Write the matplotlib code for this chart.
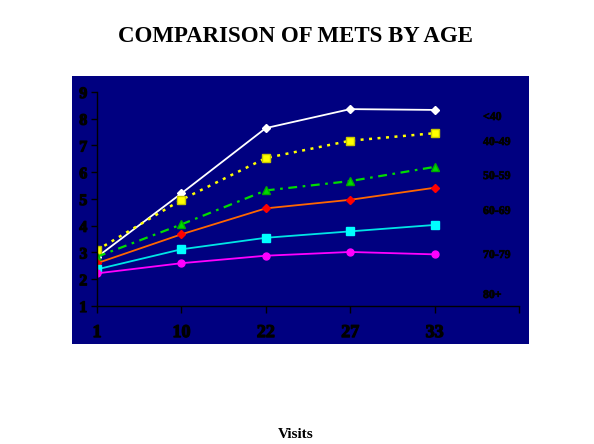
import matplotlib.pyplot as plt
import matplotlib.patheffects as pe
from matplotlib.patches import Rectangle

visits = ['1', '10', '22', '27', '33']
groups = ['<40', '40-49', '50-59', '60-69', '70-79', '80+']

mets_lt40 = [2.83, 5.21, 7.65, 8.36, 8.33]
mets_40_49 = [3.09, 4.97, 6.53, 7.18, 7.46]
mets_50_59 = [2.84, 4.05, 5.32, 5.67, 6.20]
mets_60_69 = [2.60, 3.68, 4.65, 4.97, 5.42]
mets_70_79 = [2.37, 3.12, 3.55, 3.79, 4.03]
mets_80p = [2.22, 2.60, 2.88, 3.02, 2.93]

# label heights on the right side (figure pixels from top)
label_y = [117, 142, 176, 211, 255, 295]

plt.rcParams['font.family'] = ['Liberation Serif', 'DejaVu Serif']
plt.rcParams['font.weight'] = 'bold'

W, H = 594, 444
fig = plt.figure(figsize=(W / 100, H / 100), dpi=100)
fig.patch.set_facecolor('white')

# navy plot area background
fig.patches.append(Rectangle((72 / W, 1 - 344 / H), (529 - 72) / W, (344 - 76) / H,
                             transform=fig.transFigure, facecolor='#000080',
                             edgecolor='none', zorder=-1))

ax = fig.add_axes([97 / W, 1 - 306 / H, (519 - 97) / W, (306 - 92) / H])
ax.set_facecolor('none')
ax.set_zorder(1)

x = list(range(len(visits)))
ax.plot(x, mets_lt40, color='white', lw=1.3, marker='D', ms=4.5, mfc='white', mec='white')
ax.plot(x, mets_40_49, color='#FFFF00', lw=1.8, ls=(0, (1.2, 2.2)), marker='s', ms=5.5,
        mfc='#FFFF00', mec='#C8C800')
ax.plot(x, mets_50_59, color='#00DD00', lw=1.6, ls=(0, (4, 2.5, 1.2, 2.5)), marker='^', ms=6,
        mfc='#00DD00', mec='#00AA00')
ax.plot(x, mets_60_69, color='#FF6600', lw=1.3, marker='D', ms=4.5, mfc='#FF0000', mec='#FF0000')
ax.plot(x, mets_70_79, color='#00E5E5', lw=1.3, marker='s', ms=5.5, mfc='#00FFFF', mec='#00FFFF')
ax.plot(x, mets_80p, color='#FF00FF', lw=1.3, marker='o', ms=5, mfc='#FF00FF', mec='#FF00FF')

# heavier black text on the dark background
heavy = [pe.withStroke(linewidth=0.9, foreground='black')]

ax.set_xlim(0, 5)
ax.set_ylim(1, 9)
ax.set_xticks(range(6))
ax.set_xticklabels(visits + [''])
ax.set_yticks(range(1, 10))
ax.set_yticklabels([str(v) for v in range(1, 10)])
for lab in ax.get_xticklabels():
    lab.set_fontsize(13)
    lab.set_fontweight('bold')
    lab.set_path_effects(heavy)
for lab in ax.get_yticklabels():
    lab.set_fontsize(11.5)
    lab.set_fontweight('bold')
    lab.set_path_effects(heavy)
ax.tick_params(axis='x', direction='out', length=5, width=1, pad=8, colors='black')
ax.tick_params(axis='y', direction='out', length=4, width=1, pad=3, colors='black')

for side in ('top', 'right'):
    ax.spines[side].set_visible(False)
for side in ('left', 'bottom'):
    ax.spines[side].set_color('black')
    ax.spines[side].set_linewidth(1)

for g, yy in zip(groups, label_y):
    fig.text(483 / W, 1 - yy / H, g, fontsize=8.5, fontweight='bold', color='black',
             ha='left', va='center', zorder=2,
             path_effects=[pe.withStroke(linewidth=0.5, foreground='black')])

fig.text(295 / W, 1 - 37 / H, 'COMPARISON OF METS BY AGE', fontsize=16.5,
         fontweight='bold', ha='center', va='center')
fig.text(296 / W, 1 - 434 / H, 'Visits', fontsize=11, fontweight='bold',
         ha='center', va='center')

fig.savefig('out.png', dpi=100)
